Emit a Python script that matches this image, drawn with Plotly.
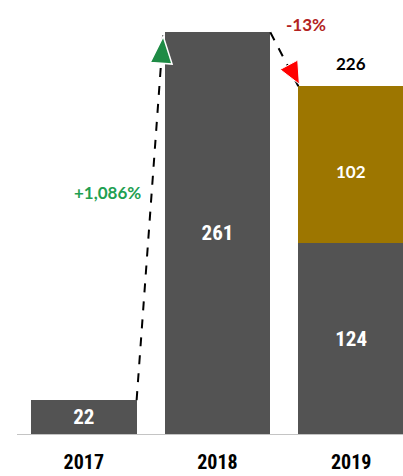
import math
import plotly.graph_objects as go

# ---- data ----
years = ["2017", "2018", "2019"]
base_values = [22, 261, 124]      # dark grey part
extra_values = [0, 0, 102]        # gold part (2019 only)
totals = [b + e for b, e in zip(base_values, extra_values)]

GREY = "#535353"
GOLD = "#9D7600"
NARROW = "Roboto Condensed, Open Sans Condensed, sans-serif"
ROUND = "Lato, Open Sans, sans-serif"

BAR_W = 0.79
HW = BAR_W / 2
xpos = list(range(len(years)))

fig = go.Figure()
fig.add_trace(go.Bar(
    x=xpos, y=base_values, width=BAR_W, marker=dict(color=GREY, line=dict(width=0)),
    text=[str(v) for v in base_values], textposition="inside", insidetextanchor="middle",
    constraintext="none",
    textfont=dict(family=NARROW, size=21, color="white", weight="bold"),
    hoverinfo="skip", showlegend=False,
))
fig.add_trace(go.Bar(
    x=xpos, y=extra_values, width=BAR_W, marker=dict(color=GOLD, line=dict(width=0)),
    hoverinfo="skip", showlegend=False,
))
# gold segment label (slightly below segment middle, as in the reference)
for xi, b, e in zip(xpos, base_values, extra_values):
    if e:
        fig.add_annotation(x=xi, y=b + e / 2, text=str(e), showarrow=False, yshift=-7,
                           font=dict(family=ROUND, size=17, color="white", weight="bold"))

# total above stacked 2019 bar
fig.add_annotation(x=xpos[2], y=totals[2], text=str(totals[2]), showarrow=False,
                   yanchor="bottom", yshift=10,
                   font=dict(family=ROUND, size=17, color="black", weight="bold"))

# change labels
pct1 = (totals[1] - totals[0]) / totals[0] * 100
pct2 = (totals[2] - totals[1]) / totals[1] * 100
lab1 = f"{pct1:+,.0f}%"
lab2 = f"{pct2:,.0f}%"

# dashed connector lines
fig.add_shape(type="line", x0=xpos[0] + HW, y0=totals[0], x1=xpos[1] - HW - 0.012, y1=totals[1] - 2,
              xref="x", yref="y", line=dict(color="black", width=2, dash="dash"))
fig.add_shape(type="line", x0=xpos[1] + HW, y0=totals[1], x1=xpos[2] - HW, y1=totals[2],
              xref="x", yref="y", line=dict(color="black", width=2, dash="dash"))


def tri_path(dx, dy, length, width, tipx=0.0, tipy=0.0):
    n = math.hypot(dx, dy)
    ux, uy = dx / n, dy / n
    px, py = -uy, ux
    bx, by = tipx - ux * length, tipy - uy * length
    a = (bx + px * width / 2, by + py * width / 2)
    b = (bx - px * width / 2, by - py * width / 2)
    return f"M{tipx:.1f},{tipy:.1f} L{a[0]:.1f},{a[1]:.1f} L{b[0]:.1f},{b[1]:.1f} Z"


# arrow heads (pixel-sized paths anchored at bar corners)
fig.add_shape(type="path", xref="x", yref="y", xsizemode="pixel", ysizemode="pixel",
              xanchor=xpos[1] - HW, yanchor=totals[1],
              path=tri_path(28, 365, 27, 22, -1.5, -4),
              fillcolor="#1E8B45", line=dict(color="white", width=1.5))
fig.add_shape(type="path", xref="x", yref="y", xsizemode="pixel", ysizemode="pixel",
              xanchor=xpos[2] - HW, yanchor=totals[2],
              path=tri_path(30, -56, 22, 20, 1, 2),
              fillcolor="#FF0000", line=dict(color="white", width=1))

fig.add_annotation(x=xpos[0] + 0.44, y=totals[1] * 0.6, text=lab1, showarrow=False,
                   xanchor="right", yanchor="middle",
                   font=dict(family=ROUND, size=17, color="#1FA052", weight="bold"))
fig.add_annotation(x=xpos[1] + 0.5, y=totals[1], text=lab2, showarrow=False,
                   xanchor="left", yanchor="middle", yshift=8,
                   font=dict(family=ROUND, size=17, color="#B22222", weight="bold"))

fig.update_layout(
    barmode="stack",
    width=403, height=476,
    margin=dict(l=17, r=0, t=0, b=42, pad=0),
    paper_bgcolor="white", plot_bgcolor="white",
    xaxis=dict(range=[-0.5, 2.388], tickmode="array", tickvals=xpos, ticktext=years,
               showgrid=False, zeroline=False, showline=True, linecolor="#c4c4c4", linewidth=1,
               ticks="", ticklabelstandoff=10,
               tickfont=dict(family=NARROW, size=20, color="black", weight="bold"), fixedrange=True),
    yaxis=dict(range=[0, 282], visible=False, fixedrange=True),
)

fig.write_html("out.html", config={"displayModeBar": False},
               post_script="document.body.style.margin='0';")
